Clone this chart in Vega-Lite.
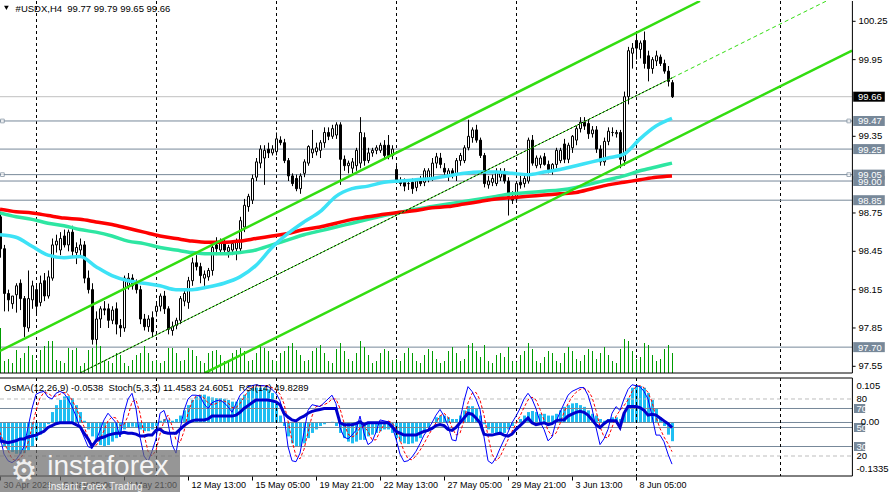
{
"$schema": "https://vega.github.io/schema/vega-lite/v6.json",
"padding": {"left": -7, "top": 0, "right": 0, "bottom": 0},
"background": "#ffffff",
"spacing": 3,
"config": {"view": {"stroke": null}, "font": "Liberation Sans", "text": {"font": "Liberation Sans"}, "scale": {"continuousPadding": 0}},
"datasets": {
"bars": [
{"i":0,"o":98.72,"h":98.76,"l":98.40,"c":98.47,"v":45,"os":-0.06,"st":41,"sg":45,"rs":36},
{"i":1,"o":98.47,"h":98.50,"l":97.98,"c":98.12,"v":12,"os":-0.07,"st":22,"sg":33,"rs":35},
{"i":2,"o":98.12,"h":98.15,"l":97.98,"c":98.07,"v":14,"os":-0.08,"st":15,"sg":26,"rs":34},
{"i":3,"o":98.04,"h":98.10,"l":98.00,"c":98.10,"v":10,"os":-0.085,"st":13,"sg":17,"rs":35},
{"i":4,"o":98.11,"h":98.20,"l":97.97,"c":98.18,"v":23,"os":-0.09,"st":16,"sg":15,"rs":36},
{"i":5,"o":98.20,"h":98.23,"l":97.99,"c":98.08,"v":15,"os":-0.09,"st":22,"sg":17,"rs":38},
{"i":6,"o":98.08,"h":98.10,"l":97.78,"c":97.86,"v":20,"os":-0.088,"st":30,"sg":23,"rs":38},
{"i":7,"o":97.85,"h":98.30,"l":97.82,"c":98.08,"v":27,"os":-0.08,"st":50,"sg":34,"rs":40},
{"i":8,"o":98.07,"h":98.22,"l":98.00,"c":98.18,"v":18,"os":-0.07,"st":70,"sg":50,"rs":41},
{"i":9,"o":98.15,"h":98.18,"l":97.96,"c":98.02,"v":13,"os":-0.05,"st":85,"sg":68,"rs":42},
{"i":10,"o":98.05,"h":98.26,"l":98.02,"c":98.20,"v":23,"os":-0.035,"st":87,"sg":81,"rs":44},
{"i":11,"o":98.22,"h":98.28,"l":98.06,"c":98.10,"v":27,"os":-0.02,"st":88,"sg":87,"rs":46},
{"i":12,"o":98.10,"h":98.30,"l":98.08,"c":98.25,"v":32,"os":-0.005,"st":82,"sg":86,"rs":50},
{"i":13,"o":98.24,"h":98.55,"l":98.22,"c":98.50,"v":32,"os":0.03,"st":80,"sg":83,"rs":52},
{"i":14,"o":98.50,"h":98.58,"l":98.44,"c":98.53,"v":13,"os":0.05,"st":86,"sg":83,"rs":54},
{"i":15,"o":98.46,"h":98.60,"l":98.42,"c":98.55,"v":12,"os":0.065,"st":88,"sg":85,"rs":55},
{"i":16,"o":98.57,"h":98.62,"l":98.48,"c":98.50,"v":10,"os":0.075,"st":86,"sg":87,"rs":55},
{"i":17,"o":98.50,"h":98.62,"l":98.45,"c":98.60,"v":25,"os":0.076,"st":80,"sg":85,"rs":55},
{"i":18,"o":98.60,"h":98.65,"l":98.40,"c":98.45,"v":23,"os":0.07,"st":72,"sg":79,"rs":55},
{"i":19,"o":98.44,"h":98.52,"l":98.35,"c":98.48,"v":25,"os":0.05,"st":62,"sg":71,"rs":53},
{"i":20,"o":98.46,"h":98.55,"l":98.40,"c":98.50,"v":7,"os":0.03,"st":50,"sg":61,"rs":51},
{"i":21,"o":98.50,"h":98.53,"l":98.20,"c":98.24,"v":10,"os":0.005,"st":40,"sg":51,"rs":44},
{"i":22,"o":98.24,"h":98.30,"l":98.12,"c":98.15,"v":23,"os":-0.02,"st":30,"sg":40,"rs":38},
{"i":23,"o":98.15,"h":98.20,"l":97.72,"c":97.76,"v":25,"os":-0.04,"st":28,"sg":33,"rs":30},
{"i":24,"o":97.76,"h":97.98,"l":97.72,"c":97.92,"v":32,"os":-0.055,"st":36,"sg":31,"rs":36},
{"i":25,"o":97.92,"h":98.02,"l":97.85,"c":98.00,"v":27,"os":-0.065,"st":47,"sg":37,"rs":39},
{"i":26,"o":98.00,"h":98.06,"l":97.95,"c":97.99,"v":13,"os":-0.07,"st":58,"sg":47,"rs":40},
{"i":27,"o":98.00,"h":98.04,"l":97.85,"c":97.91,"v":12,"os":-0.065,"st":65,"sg":57,"rs":42},
{"i":28,"o":97.91,"h":98.02,"l":97.88,"c":97.99,"v":10,"os":-0.055,"st":60,"sg":61,"rs":43},
{"i":29,"o":98.00,"h":98.05,"l":97.80,"c":97.88,"v":20,"os":-0.045,"st":55,"sg":60,"rs":44},
{"i":30,"o":97.87,"h":97.92,"l":97.78,"c":97.85,"v":18,"os":-0.035,"st":40,"sg":52,"rs":44},
{"i":31,"o":97.85,"h":98.26,"l":97.82,"c":98.24,"v":10,"os":-0.02,"st":65,"sg":53,"rs":45},
{"i":32,"o":98.18,"h":98.28,"l":98.15,"c":98.24,"v":7,"os":-0.015,"st":80,"sg":62,"rs":44},
{"i":33,"o":98.24,"h":98.27,"l":98.15,"c":98.18,"v":13,"os":-0.012,"st":86,"sg":77,"rs":44},
{"i":34,"o":98.20,"h":98.23,"l":98.12,"c":98.15,"v":18,"os":-0.015,"st":70,"sg":79,"rs":43},
{"i":35,"o":98.15,"h":98.18,"l":97.88,"c":97.92,"v":20,"os":-0.02,"st":40,"sg":65,"rs":41},
{"i":36,"o":97.92,"h":97.96,"l":97.83,"c":97.86,"v":27,"os":-0.025,"st":20,"sg":43,"rs":41},
{"i":37,"o":97.86,"h":97.95,"l":97.82,"c":97.92,"v":20,"os":-0.025,"st":14,"sg":25,"rs":42},
{"i":38,"o":97.93,"h":97.98,"l":97.78,"c":97.82,"v":12,"os":-0.02,"st":25,"sg":20,"rs":42},
{"i":39,"o":97.98,"h":98.05,"l":97.94,"c":98.02,"v":13,"os":-0.01,"st":38,"sg":26,"rs":47},
{"i":40,"o":98.02,"h":98.12,"l":97.98,"c":98.10,"v":10,"os":0.005,"st":65,"sg":43,"rs":48},
{"i":41,"o":98.10,"h":98.14,"l":97.96,"c":98.00,"v":12,"os":0.01,"st":68,"sg":57,"rs":45},
{"i":42,"o":98.00,"h":98.02,"l":97.80,"c":97.84,"v":25,"os":0.008,"st":55,"sg":63,"rs":44},
{"i":43,"o":97.83,"h":97.90,"l":97.79,"c":97.86,"v":25,"os":0.005,"st":32,"sg":52,"rs":44},
{"i":44,"o":97.87,"h":97.93,"l":97.84,"c":97.91,"v":20,"os":0.01,"st":23,"sg":37,"rs":44},
{"i":45,"o":97.91,"h":98.10,"l":97.88,"c":98.08,"v":12,"os":0.02,"st":48,"sg":34,"rs":48},
{"i":46,"o":98.06,"h":98.14,"l":98.02,"c":98.12,"v":13,"os":0.035,"st":68,"sg":46,"rs":52},
{"i":47,"o":98.05,"h":98.25,"l":98.00,"c":98.22,"v":25,"os":0.05,"st":80,"sg":65,"rs":55},
{"i":48,"o":98.22,"h":98.40,"l":98.18,"c":98.36,"v":23,"os":0.065,"st":84,"sg":77,"rs":57},
{"i":49,"o":98.36,"h":98.42,"l":98.30,"c":98.33,"v":17,"os":0.075,"st":84,"sg":83,"rs":58},
{"i":50,"o":98.33,"h":98.36,"l":98.20,"c":98.26,"v":12,"os":0.08,"st":83,"sg":84,"rs":58},
{"i":51,"o":98.24,"h":98.30,"l":98.18,"c":98.27,"v":10,"os":0.08,"st":75,"sg":81,"rs":58},
{"i":52,"o":98.25,"h":98.32,"l":98.22,"c":98.30,"v":20,"os":0.075,"st":70,"sg":76,"rs":59},
{"i":53,"o":98.30,"h":98.50,"l":98.26,"c":98.48,"v":22,"os":0.072,"st":76,"sg":74,"rs":62},
{"i":54,"o":98.50,"h":98.56,"l":98.42,"c":98.47,"v":23,"os":0.07,"st":78,"sg":75,"rs":62},
{"i":55,"o":98.46,"h":98.55,"l":98.43,"c":98.52,"v":18,"os":0.07,"st":79,"sg":78,"rs":62},
{"i":56,"o":98.52,"h":98.55,"l":98.43,"c":98.46,"v":12,"os":0.068,"st":76,"sg":78,"rs":62},
{"i":57,"o":98.45,"h":98.50,"l":98.40,"c":98.48,"v":13,"os":0.065,"st":72,"sg":76,"rs":62},
{"i":58,"o":98.46,"h":98.53,"l":98.42,"c":98.51,"v":20,"os":0.06,"st":66,"sg":71,"rs":62},
{"i":59,"o":98.47,"h":98.55,"l":98.38,"c":98.53,"v":23,"os":0.06,"st":75,"sg":71,"rs":63},
{"i":60,"o":98.47,"h":98.72,"l":98.45,"c":98.69,"v":25,"os":0.07,"st":84,"sg":75,"rs":66},
{"i":61,"o":98.64,"h":98.86,"l":98.60,"c":98.81,"v":22,"os":0.08,"st":88,"sg":82,"rs":70},
{"i":62,"o":98.80,"h":98.90,"l":98.76,"c":98.88,"v":12,"os":0.09,"st":93,"sg":88,"rs":73},
{"i":63,"o":98.85,"h":99.05,"l":98.82,"c":99.02,"v":13,"os":0.1,"st":94,"sg":92,"rs":76},
{"i":64,"o":99.03,"h":99.18,"l":99.00,"c":99.15,"v":20,"os":0.1,"st":95,"sg":94,"rs":79},
{"i":65,"o":99.14,"h":99.28,"l":99.10,"c":99.25,"v":27,"os":0.1,"st":94,"sg":94,"rs":79},
{"i":66,"o":99.18,"h":99.28,"l":98.97,"c":99.24,"v":25,"os":0.1,"st":94,"sg":94,"rs":79},
{"i":67,"o":99.25,"h":99.30,"l":99.18,"c":99.22,"v":22,"os":0.095,"st":93,"sg":94,"rs":79},
{"i":68,"o":99.22,"h":99.28,"l":99.20,"c":99.25,"v":13,"os":0.085,"st":90,"sg":92,"rs":78},
{"i":69,"o":99.23,"h":99.38,"l":99.20,"c":99.33,"v":12,"os":0.06,"st":86,"sg":90,"rs":77},
{"i":70,"o":99.32,"h":99.35,"l":99.28,"c":99.30,"v":20,"os":0.02,"st":78,"sg":85,"rs":74},
{"i":71,"o":99.30,"h":99.33,"l":99.14,"c":99.16,"v":22,"os":-0.01,"st":62,"sg":75,"rs":65},
{"i":72,"o":99.16,"h":99.18,"l":99.00,"c":99.04,"v":27,"os":-0.04,"st":30,"sg":57,"rs":61},
{"i":73,"o":99.04,"h":99.06,"l":98.96,"c":98.98,"v":30,"os":-0.06,"st":15,"sg":36,"rs":58},
{"i":74,"o":99.02,"h":99.05,"l":98.92,"c":98.94,"v":23,"os":-0.07,"st":14,"sg":20,"rs":57},
{"i":75,"o":98.94,"h":99.06,"l":98.90,"c":99.04,"v":18,"os":-0.07,"st":23,"sg":17,"rs":60},
{"i":76,"o":99.06,"h":99.17,"l":99.03,"c":99.15,"v":12,"os":-0.06,"st":45,"sg":27,"rs":62},
{"i":77,"o":99.14,"h":99.28,"l":99.12,"c":99.27,"v":13,"os":-0.045,"st":68,"sg":45,"rs":65},
{"i":78,"o":99.22,"h":99.40,"l":99.18,"c":99.25,"v":22,"os":-0.03,"st":74,"sg":62,"rs":67},
{"i":79,"o":99.23,"h":99.30,"l":99.20,"c":99.26,"v":25,"os":-0.02,"st":73,"sg":72,"rs":68},
{"i":80,"o":99.24,"h":99.32,"l":99.18,"c":99.30,"v":28,"os":-0.01,"st":72,"sg":73,"rs":69},
{"i":81,"o":99.30,"h":99.42,"l":99.26,"c":99.38,"v":20,"os":-0.005,"st":76,"sg":74,"rs":70},
{"i":82,"o":99.38,"h":99.42,"l":99.32,"c":99.35,"v":12,"os":0.0,"st":80,"sg":76,"rs":70},
{"i":83,"o":99.35,"h":99.44,"l":99.33,"c":99.41,"v":10,"os":0.002,"st":84,"sg":80,"rs":70},
{"i":84,"o":99.36,"h":99.46,"l":99.33,"c":99.44,"v":24,"os":-0.01,"st":75,"sg":80,"rs":70},
{"i":85,"o":99.44,"h":99.46,"l":98.97,"c":99.17,"v":30,"os":-0.03,"st":50,"sg":70,"rs":55},
{"i":86,"o":99.17,"h":99.20,"l":99.08,"c":99.12,"v":22,"os":-0.045,"st":40,"sg":55,"rs":53},
{"i":87,"o":99.12,"h":99.16,"l":99.06,"c":99.14,"v":14,"os":-0.055,"st":38,"sg":43,"rs":53},
{"i":88,"o":99.10,"h":99.18,"l":99.06,"c":99.15,"v":12,"os":-0.06,"st":42,"sg":40,"rs":53},
{"i":89,"o":99.12,"h":99.26,"l":99.08,"c":99.24,"v":20,"os":-0.055,"st":47,"sg":42,"rs":54},
{"i":90,"o":99.14,"h":99.50,"l":99.10,"c":99.38,"v":32,"os":-0.05,"st":62,"sg":50,"rs":56},
{"i":91,"o":99.34,"h":99.38,"l":99.12,"c":99.16,"v":26,"os":-0.05,"st":44,"sg":51,"rs":53},
{"i":92,"o":99.16,"h":99.26,"l":99.14,"c":99.22,"v":18,"os":-0.04,"st":32,"sg":46,"rs":55},
{"i":93,"o":99.22,"h":99.26,"l":99.19,"c":99.24,"v":10,"os":-0.035,"st":35,"sg":37,"rs":55},
{"i":94,"o":99.24,"h":99.28,"l":99.21,"c":99.26,"v":12,"os":-0.03,"st":45,"sg":37,"rs":55},
{"i":95,"o":99.24,"h":99.30,"l":99.22,"c":99.28,"v":20,"os":-0.025,"st":58,"sg":46,"rs":55},
{"i":96,"o":99.28,"h":99.32,"l":99.18,"c":99.20,"v":24,"os":-0.02,"st":57,"sg":53,"rs":55},
{"i":97,"o":99.28,"h":99.36,"l":99.17,"c":99.20,"v":22,"os":-0.02,"st":56,"sg":57,"rs":55},
{"i":98,"o":99.20,"h":99.28,"l":99.17,"c":99.25,"v":13,"os":-0.03,"st":52,"sg":55,"rs":51},
{"i":99,"o":99.09,"h":99.12,"l":98.98,"c":99.00,"v":14,"os":-0.045,"st":38,"sg":49,"rs":46},
{"i":100,"o":99.00,"h":99.03,"l":98.96,"c":98.98,"v":12,"os":-0.055,"st":22,"sg":37,"rs":44},
{"i":101,"o":98.99,"h":99.02,"l":98.92,"c":98.96,"v":20,"os":-0.06,"st":14,"sg":25,"rs":42},
{"i":102,"o":98.98,"h":99.01,"l":98.93,"c":98.98,"v":25,"os":-0.062,"st":15,"sg":17,"rs":42},
{"i":103,"o":98.99,"h":99.02,"l":98.90,"c":98.94,"v":20,"os":-0.06,"st":19,"sg":16,"rs":42},
{"i":104,"o":98.95,"h":99.02,"l":98.92,"c":99.00,"v":12,"os":-0.055,"st":25,"sg":20,"rs":42},
{"i":105,"o":99.00,"h":99.04,"l":98.96,"c":98.98,"v":10,"os":-0.045,"st":33,"sg":26,"rs":44},
{"i":106,"o":98.99,"h":99.10,"l":98.96,"c":99.08,"v":18,"os":-0.03,"st":42,"sg":33,"rs":46},
{"i":107,"o":99.02,"h":99.10,"l":98.99,"c":99.08,"v":24,"os":-0.015,"st":48,"sg":41,"rs":47},
{"i":108,"o":99.02,"h":99.18,"l":99.00,"c":99.14,"v":22,"os":0.0,"st":55,"sg":48,"rs":49},
{"i":109,"o":99.14,"h":99.22,"l":99.10,"c":99.19,"v":14,"os":0.015,"st":63,"sg":55,"rs":52},
{"i":110,"o":99.18,"h":99.22,"l":99.10,"c":99.13,"v":10,"os":0.02,"st":69,"sg":62,"rs":53},
{"i":111,"o":99.10,"h":99.14,"l":99.04,"c":99.07,"v":12,"os":0.02,"st":62,"sg":65,"rs":52},
{"i":112,"o":99.04,"h":99.10,"l":99.00,"c":99.08,"v":22,"os":0.015,"st":52,"sg":61,"rs":48},
{"i":113,"o":99.08,"h":99.10,"l":99.02,"c":99.05,"v":26,"os":0.01,"st":37,"sg":50,"rs":47},
{"i":114,"o":99.05,"h":99.18,"l":99.00,"c":99.16,"v":20,"os":0.01,"st":36,"sg":42,"rs":50},
{"i":115,"o":99.16,"h":99.22,"l":99.12,"c":99.20,"v":12,"os":0.02,"st":58,"sg":44,"rs":55},
{"i":116,"o":99.16,"h":99.28,"l":99.14,"c":99.26,"v":14,"os":0.035,"st":78,"sg":57,"rs":60},
{"i":117,"o":99.26,"h":99.48,"l":99.24,"c":99.35,"v":28,"os":0.047,"st":93,"sg":76,"rs":65},
{"i":118,"o":99.34,"h":99.42,"l":99.30,"c":99.40,"v":30,"os":0.047,"st":88,"sg":86,"rs":64},
{"i":119,"o":99.40,"h":99.44,"l":99.30,"c":99.32,"v":22,"os":0.04,"st":80,"sg":87,"rs":60},
{"i":120,"o":99.32,"h":99.34,"l":99.18,"c":99.20,"v":16,"os":0.02,"st":69,"sg":79,"rs":55},
{"i":121,"o":99.20,"h":99.22,"l":98.95,"c":98.98,"v":28,"os":-0.005,"st":40,"sg":63,"rs":43},
{"i":122,"o":98.97,"h":99.04,"l":98.94,"c":99.00,"v":12,"os":-0.02,"st":15,"sg":41,"rs":42},
{"i":123,"o":98.99,"h":99.05,"l":98.96,"c":99.02,"v":10,"os":-0.03,"st":12,"sg":22,"rs":42},
{"i":124,"o":98.98,"h":99.10,"l":98.96,"c":99.07,"v":18,"os":-0.035,"st":18,"sg":15,"rs":43},
{"i":125,"o":99.03,"h":99.10,"l":99.00,"c":99.07,"v":20,"os":-0.035,"st":28,"sg":19,"rs":44},
{"i":126,"o":99.06,"h":99.10,"l":98.98,"c":99.00,"v":16,"os":-0.03,"st":37,"sg":28,"rs":42},
{"i":127,"o":99.00,"h":99.03,"l":98.73,"c":98.88,"v":26,"os":-0.02,"st":45,"sg":37,"rs":41},
{"i":128,"o":98.88,"h":98.92,"l":98.82,"c":98.85,"v":12,"os":-0.01,"st":55,"sg":46,"rs":43},
{"i":129,"o":98.86,"h":99.00,"l":98.83,"c":98.98,"v":11,"os":0.0,"st":62,"sg":54,"rs":48},
{"i":130,"o":98.99,"h":99.04,"l":98.94,"c":98.97,"v":18,"os":0.01,"st":70,"sg":62,"rs":52},
{"i":131,"o":98.98,"h":99.04,"l":98.95,"c":99.02,"v":22,"os":0.02,"st":80,"sg":71,"rs":56},
{"i":132,"o":99.00,"h":99.34,"l":98.98,"c":99.32,"v":30,"os":0.03,"st":86,"sg":79,"rs":60},
{"i":133,"o":99.32,"h":99.36,"l":99.12,"c":99.14,"v":24,"os":0.033,"st":80,"sg":82,"rs":55},
{"i":134,"o":99.12,"h":99.20,"l":99.10,"c":99.18,"v":12,"os":0.03,"st":70,"sg":79,"rs":53},
{"i":135,"o":99.13,"h":99.20,"l":99.10,"c":99.18,"v":10,"os":0.025,"st":56,"sg":69,"rs":54},
{"i":136,"o":99.19,"h":99.22,"l":99.12,"c":99.13,"v":16,"os":0.025,"st":48,"sg":58,"rs":55},
{"i":137,"o":99.13,"h":99.16,"l":99.06,"c":99.09,"v":22,"os":0.02,"st":36,"sg":47,"rs":53},
{"i":138,"o":99.09,"h":99.14,"l":99.05,"c":99.13,"v":20,"os":0.02,"st":40,"sg":41,"rs":54},
{"i":139,"o":99.13,"h":99.26,"l":99.10,"c":99.24,"v":12,"os":0.025,"st":56,"sg":44,"rs":57},
{"i":140,"o":99.16,"h":99.26,"l":99.14,"c":99.24,"v":10,"os":0.035,"st":66,"sg":54,"rs":58},
{"i":141,"o":99.29,"h":99.33,"l":99.14,"c":99.17,"v":20,"os":0.045,"st":75,"sg":66,"rs":58},
{"i":142,"o":99.17,"h":99.30,"l":99.14,"c":99.28,"v":26,"os":0.05,"st":84,"sg":75,"rs":62},
{"i":143,"o":99.26,"h":99.36,"l":99.22,"c":99.35,"v":22,"os":0.055,"st":88,"sg":82,"rs":64},
{"i":144,"o":99.32,"h":99.43,"l":99.28,"c":99.41,"v":14,"os":0.056,"st":90,"sg":87,"rs":66},
{"i":145,"o":99.41,"h":99.50,"l":99.38,"c":99.46,"v":12,"os":0.05,"st":92,"sg":90,"rs":67},
{"i":146,"o":99.46,"h":99.50,"l":99.40,"c":99.43,"v":18,"os":0.045,"st":92,"sg":91,"rs":66},
{"i":147,"o":99.45,"h":99.48,"l":99.33,"c":99.37,"v":24,"os":0.035,"st":84,"sg":89,"rs":63},
{"i":148,"o":99.37,"h":99.43,"l":99.34,"c":99.40,"v":22,"os":0.025,"st":70,"sg":82,"rs":58},
{"i":149,"o":99.40,"h":99.43,"l":99.22,"c":99.25,"v":14,"os":0.02,"st":50,"sg":68,"rs":53},
{"i":150,"o":99.25,"h":99.28,"l":99.12,"c":99.15,"v":20,"os":0.01,"st":32,"sg":51,"rs":50},
{"i":151,"o":99.15,"h":99.34,"l":99.12,"c":99.31,"v":26,"os":0.005,"st":38,"sg":40,"rs":54},
{"i":152,"o":99.31,"h":99.42,"l":99.28,"c":99.39,"v":18,"os":0.01,"st":48,"sg":39,"rs":57},
{"i":153,"o":99.38,"h":99.42,"l":99.35,"c":99.38,"v":12,"os":0.015,"st":65,"sg":50,"rs":57},
{"i":154,"o":99.37,"h":99.40,"l":99.34,"c":99.38,"v":10,"os":0.015,"st":72,"sg":62,"rs":57},
{"i":155,"o":99.38,"h":99.40,"l":99.10,"c":99.17,"v":24,"os":0.01,"st":68,"sg":68,"rs":50},
{"i":156,"o":99.16,"h":99.70,"l":99.12,"c":99.66,"v":34,"os":0.03,"st":80,"sg":73,"rs":65},
{"i":157,"o":99.66,"h":100.05,"l":99.60,"c":100.02,"v":32,"os":0.07,"st":90,"sg":79,"rs":72},
{"i":158,"o":100.00,"h":100.08,"l":99.88,"c":100.04,"v":22,"os":0.1,"st":95,"sg":88,"rs":72},
{"i":159,"o":100.10,"h":100.16,"l":99.95,"c":100.04,"v":14,"os":0.108,"st":94,"sg":93,"rs":72},
{"i":160,"o":100.03,"h":100.10,"l":99.96,"c":100.08,"v":16,"os":0.105,"st":93,"sg":94,"rs":71},
{"i":161,"o":100.10,"h":100.17,"l":99.88,"c":99.92,"v":30,"os":0.1,"st":88,"sg":92,"rs":68},
{"i":162,"o":99.98,"h":100.02,"l":99.78,"c":99.88,"v":28,"os":0.085,"st":80,"sg":87,"rs":63},
{"i":163,"o":99.88,"h":99.97,"l":99.84,"c":99.95,"v":18,"os":0.065,"st":62,"sg":77,"rs":64},
{"i":164,"o":99.94,"h":100.02,"l":99.90,"c":99.98,"v":12,"os":0.04,"st":42,"sg":61,"rs":63},
{"i":165,"o":99.97,"h":99.99,"l":99.90,"c":99.92,"v":14,"os":0.015,"st":42,"sg":49,"rs":60},
{"i":166,"o":99.92,"h":99.95,"l":99.84,"c":99.86,"v":24,"os":-0.01,"st":35,"sg":40,"rs":57},
{"i":167,"o":99.86,"h":99.90,"l":99.74,"c":99.78,"v":28,"os":-0.035,"st":22,"sg":33,"rs":54},
{"i":168,"o":99.77,"h":99.79,"l":99.65,"c":99.66,"v":20,"os":-0.0538,"st":11.46,"sg":24.61,"rs":49.83}
],
"ma": [
{"i":0,"r":98.78,"t":98.75,"cy":98.58},{"i":4,"r":98.76,"t":98.72,"cy":98.56},{"i":8,"r":98.75,"t":98.70,"cy":98.49},{"i":12,"r":98.73,"t":98.67,"cy":98.42},
{"i":16,"r":98.71,"t":98.65,"cy":98.40},{"i":20,"r":98.70,"t":98.62,"cy":98.41},{"i":24,"r":98.68,"t":98.60,"cy":98.33},{"i":28,"r":98.66,"t":98.57,"cy":98.26},
{"i":32,"r":98.63,"t":98.53,"cy":98.22},{"i":36,"r":98.60,"t":98.51,"cy":98.20},{"i":40,"r":98.57,"t":98.48,"cy":98.18},{"i":44,"r":98.55,"t":98.46,"cy":98.15},
{"i":48,"r":98.53,"t":98.44,"cy":98.15},{"i":52,"r":98.52,"t":98.43,"cy":98.17},{"i":56,"r":98.52,"t":98.43,"cy":98.20},{"i":60,"r":98.53,"t":98.44,"cy":98.25},
{"i":64,"r":98.55,"t":98.46,"cy":98.34},{"i":68,"r":98.57,"t":98.50,"cy":98.48},{"i":72,"r":98.59,"t":98.54,"cy":98.59},{"i":76,"r":98.62,"t":98.58,"cy":98.68},
{"i":80,"r":98.64,"t":98.61,"cy":98.76},{"i":84,"r":98.67,"t":98.64,"cy":98.88},{"i":88,"r":98.70,"t":98.67,"cy":98.94},{"i":92,"r":98.72,"t":98.70,"cy":98.96},
{"i":96,"r":98.74,"t":98.73,"cy":98.99},{"i":100,"r":98.755,"t":98.755,"cy":99.00},{"i":104,"r":98.77,"t":98.78,"cy":99.01},{"i":108,"r":98.79,"t":98.80,"cy":99.02},
{"i":112,"r":98.80,"t":98.82,"cy":99.04},{"i":116,"r":98.82,"t":98.84,"cy":99.06},{"i":120,"r":98.84,"t":98.86,"cy":99.07},{"i":124,"r":98.86,"t":98.88,"cy":99.07},
{"i":128,"r":98.87,"t":98.90,"cy":99.06},{"i":132,"r":98.88,"t":98.91,"cy":99.05},{"i":136,"r":98.89,"t":98.92,"cy":99.07},{"i":140,"r":98.90,"t":98.93,"cy":99.09},
{"i":144,"r":98.91,"t":98.95,"cy":99.12},{"i":148,"r":98.94,"t":98.98,"cy":99.15},{"i":152,"r":98.97,"t":99.01,"cy":99.18},{"i":156,"r":98.99,"t":99.04,"cy":99.21},
{"i":160,"r":99.01,"t":99.08,"cy":99.33},{"i":164,"r":99.03,"t":99.11,"cy":99.43},{"i":168,"r":99.04,"t":99.14,"cy":99.49}
],
"chan": [{"g":"u","i":0,"p":97.67},{"g":"u","i":175,"p":100.409},{"g":"l","i":51.25,"p":97.498},{"g":"l","i":213,"p":100.021}],
"mid": [{"i":20,"p":97.498},{"i":168,"p":99.807}],
"midx": [{"i":168,"p":99.807},{"i":207.5,"p":100.423}],
"seps": [{"i":9},{"i":39},{"i":69},{"i":99},{"i":129},{"i":159},{"i":195}],
"yticks": [{"v":97.55},{"v":97.85},{"v":98.15},{"v":98.45},{"v":98.75},{"v":99.35},{"v":99.95},{"v":100.25}],
"levels": [{"p":99.66,"t":"price","lab":"99.66"},{"p":99.47,"t":"lvl","lab":"99.47"},{"p":99.25,"t":"lvl","lab":"99.25"},{"p":99.00,"t":"lvl","lab":"99.00"},{"p":99.05,"t":"lvl","lab":"99.05"},{"p":98.85,"t":"lvl","lab":"98.85"},{"p":97.70,"t":"lvl","lab":"97.70"}],
"handles": [{"p":99.47},{"p":99.05}],
"olev": [{"v":80,"t":"d"},{"v":20,"t":"d"},{"v":70,"t":"s"},{"v":50,"t":"s"},{"v":30,"t":"s"}],
"obox": [{"v":70,"lab":"70"},{"v":50,"lab":"50"},{"v":30,"lab":"30"}],
"olab_s": [{"v":80,"lab":"80"},{"v":20,"lab":"20"}],
"olab_o": [{"v":0.105,"lab":"0.105"},{"v":-0.1335,"lab":"-0.1335"}]
},
"vconcat": [
{
"width": 886, "height": 372,
"layer": [
{"data": {"name": "seps"}, "mark": {"type": "rule", "color": "#000000", "strokeWidth": 1, "strokeDash": [3, 3], "xOffset": 0.5}, "encoding": {
  "x": {"field": "i", "type": "quantitative", "scale": {"domain": [0, 221.5], "nice": false, "zero": false, "padding": 0}, "axis": null}}},
{"data": {"name": "levels"}, "mark": {"type": "rule", "strokeWidth": 1}, "encoding": {
  "x": {"datum": 0, "type": "quantitative", "scale": {"domain": [0, 221.5], "nice": false, "zero": false, "padding": 0}, "axis": null},
  "x2": {"datum": 213},
  "y": {"field": "p", "type": "quantitative", "scale": {"domain": [97.4976, 100.4089], "nice": false, "zero": false}, "axis": null},
  "color": {"condition": {"test": "datum.t == 'price'", "value": "#c0c0c0"}, "value": "#778899"}}},
{"data": {"name": "bars"}, "mark": {"type": "bar", "width": 1, "xOffset": 0.5, "color": "#009c00"}, "encoding": {
  "x": {"field": "i", "type": "quantitative", "scale": {"domain": [0, 221.5], "nice": false, "zero": false, "padding": 0}, "axis": null},
  "y": {"field": "v", "type": "quantitative", "scale": {"domain": [0, 372], "nice": false, "zero": true}, "axis": null}}},
{"data": {"name": "bars"}, "mark": {"type": "rule", "color": "#000000", "strokeWidth": 1, "xOffset": 0.5}, "encoding": {
  "x": {"field": "i", "type": "quantitative", "scale": {"domain": [0, 221.5], "nice": false, "zero": false, "padding": 0}, "axis": null},
  "y": {"field": "l", "type": "quantitative", "scale": {"domain": [97.4976, 100.4089], "nice": false, "zero": false}, "axis": null},
  "y2": {"field": "h"}}},
{"data": {"name": "bars"}, "mark": {"type": "bar", "width": 2, "xOffset": 0.5, "stroke": "#000000", "strokeWidth": 1}, "encoding": {
  "x": {"field": "i", "type": "quantitative", "scale": {"domain": [0, 221.5], "nice": false, "zero": false, "padding": 0}, "axis": null},
  "y": {"field": "o", "type": "quantitative", "scale": {"domain": [97.4976, 100.4089], "nice": false, "zero": false}, "axis": null},
  "y2": {"field": "c"},
  "fill": {"condition": {"test": "datum.c >= datum.o", "value": "#ffffff"}, "value": "#000000"}}},
{"data": {"name": "ma"}, "mark": {"type": "line", "color": "#2ee6a2", "strokeWidth": 3.5, "interpolate": "monotone"}, "encoding": {
  "x": {"field": "i", "type": "quantitative", "scale": {"domain": [0, 221.5], "nice": false, "zero": false, "padding": 0}, "axis": null},
  "y": {"field": "t", "type": "quantitative", "scale": {"domain": [97.4976, 100.4089], "nice": false, "zero": false}, "axis": null}}},
{"data": {"name": "ma"}, "mark": {"type": "line", "color": "#ff0000", "strokeWidth": 3.5, "interpolate": "monotone"}, "encoding": {
  "x": {"field": "i", "type": "quantitative", "scale": {"domain": [0, 221.5], "nice": false, "zero": false, "padding": 0}, "axis": null},
  "y": {"field": "r", "type": "quantitative", "scale": {"domain": [97.4976, 100.4089], "nice": false, "zero": false}, "axis": null}}},
{"data": {"name": "ma"}, "mark": {"type": "line", "color": "#3de2f6", "strokeWidth": 3.5, "interpolate": "monotone"}, "encoding": {
  "x": {"field": "i", "type": "quantitative", "scale": {"domain": [0, 221.5], "nice": false, "zero": false, "padding": 0}, "axis": null},
  "y": {"field": "cy", "type": "quantitative", "scale": {"domain": [97.4976, 100.4089], "nice": false, "zero": false}, "axis": null}}},
{"data": {"name": "chan"}, "mark": {"type": "line", "color": "#33dd11", "strokeWidth": 2.5, "clip": true}, "encoding": {
  "x": {"field": "i", "type": "quantitative", "scale": {"domain": [0, 221.5], "nice": false, "zero": false, "padding": 0}, "axis": null},
  "y": {"field": "p", "type": "quantitative", "scale": {"domain": [97.4976, 100.4089], "nice": false, "zero": false}, "axis": null},
  "detail": {"field": "g"}}},
{"data": {"name": "mid"}, "mark": {"type": "line", "color": "#33dd11", "strokeWidth": 1, "clip": true}, "encoding": {
  "x": {"field": "i", "type": "quantitative", "scale": {"domain": [0, 221.5], "nice": false, "zero": false, "padding": 0}, "axis": null},
  "y": {"field": "p", "type": "quantitative", "scale": {"domain": [97.4976, 100.4089], "nice": false, "zero": false}, "axis": null}}},
{"data": {"name": "mid"}, "mark": {"type": "line", "color": "#000000", "strokeWidth": 1, "strokeDash": [2, 2], "clip": true}, "encoding": {
  "x": {"field": "i", "type": "quantitative", "scale": {"domain": [0, 221.5], "nice": false, "zero": false, "padding": 0}, "axis": null},
  "y": {"field": "p", "type": "quantitative", "scale": {"domain": [97.4976, 100.4089], "nice": false, "zero": false}, "axis": null}}},
{"data": {"name": "midx"}, "mark": {"type": "line", "color": "#33dd11", "strokeWidth": 1, "strokeDash": [4, 3], "clip": true}, "encoding": {
  "x": {"field": "i", "type": "quantitative", "scale": {"domain": [0, 221.5], "nice": false, "zero": false, "padding": 0}, "axis": null},
  "y": {"field": "p", "type": "quantitative", "scale": {"domain": [97.4976, 100.4089], "nice": false, "zero": false}, "axis": null}}},
{"data": {"name": "handles"}, "mark": {"type": "point", "shape": "square", "size": 14, "filled": true, "fill": "#ffffff", "stroke": "#778899", "strokeWidth": 1}, "encoding": {
  "x": {"datum": 0.6, "type": "quantitative", "scale": {"domain": [0, 221.5], "nice": false, "zero": false, "padding": 0}, "axis": null},
  "y": {"field": "p", "type": "quantitative", "scale": {"domain": [97.4976, 100.4089], "nice": false, "zero": false}, "axis": null}}},
{"data": {"name": "handles"}, "mark": {"type": "point", "shape": "square", "size": 14, "filled": true, "fill": "#ffffff", "stroke": "#778899", "strokeWidth": 1}, "encoding": {
  "x": {"datum": 212.2, "type": "quantitative", "scale": {"domain": [0, 221.5], "nice": false, "zero": false, "padding": 0}, "axis": null},
  "y": {"field": "p", "type": "quantitative", "scale": {"domain": [97.4976, 100.4089], "nice": false, "zero": false}, "axis": null}}},
{"data": {"values": [{"v": 97.4976}]}, "mark": {"type": "rule", "color": "#000000", "strokeWidth": 1}, "encoding": {
  "x": {"datum": 0, "type": "quantitative", "scale": {"domain": [0, 221.5], "nice": false, "zero": false, "padding": 0}, "axis": null},
  "x2": {"datum": 213.1},
  "y": {"field": "v", "type": "quantitative", "scale": {"domain": [97.4976, 100.4089], "nice": false, "zero": false}, "axis": null}}},
{"data": {"values": [{"k": 1}]}, "mark": {"type": "rule", "color": "#000000", "strokeWidth": 1}, "encoding": {
  "x": {"datum": 213.1, "type": "quantitative", "scale": {"domain": [0, 221.5], "nice": false, "zero": false, "padding": 0}, "axis": null}}},
{"data": {"name": "yticks"}, "mark": {"type": "rule", "color": "#000000", "strokeWidth": 1}, "encoding": {
  "x": {"datum": 213.1, "type": "quantitative", "scale": {"domain": [0, 221.5], "nice": false, "zero": false, "padding": 0}, "axis": null},
  "x2": {"datum": 213.9},
  "y": {"field": "v", "type": "quantitative", "scale": {"domain": [97.4976, 100.4089], "nice": false, "zero": false}, "axis": null}}},
{"data": {"name": "yticks"}, "mark": {"type": "text", "align": "left", "baseline": "middle", "color": "#000000", "fontSize": 9.5}, "encoding": {
  "x": {"datum": 214.6, "type": "quantitative", "scale": {"domain": [0, 221.5], "nice": false, "zero": false, "padding": 0}, "axis": null},
  "y": {"field": "v", "type": "quantitative", "scale": {"domain": [97.4976, 100.4089], "nice": false, "zero": false}, "axis": null},
  "text": {"field": "v", "type": "quantitative", "format": ".2f"}}},
{"data": {"name": "levels"}, "mark": {"type": "bar", "height": 10, "orient": "horizontal"}, "encoding": {
  "x": {"datum": 213.3, "type": "quantitative", "scale": {"domain": [0, 221.5], "nice": false, "zero": false, "padding": 0}, "axis": null},
  "x2": {"datum": 221.2},
  "y": {"field": "p", "type": "quantitative", "scale": {"domain": [97.4976, 100.4089], "nice": false, "zero": false, "padding": 0}, "axis": null},
  "color": {"condition": {"test": "datum.t == 'price'", "value": "#000000"}, "value": "#778899"}}},
{"data": {"name": "levels"}, "mark": {"type": "text", "align": "left", "baseline": "middle", "color": "#ffffff", "fontSize": 9.5, "dy": 0.5}, "encoding": {
  "x": {"datum": 214.5, "type": "quantitative", "scale": {"domain": [0, 221.5], "nice": false, "zero": false, "padding": 0}, "axis": null},
  "y": {"field": "p", "type": "quantitative", "scale": {"domain": [97.4976, 100.4089], "nice": false, "zero": false}, "axis": null},
  "text": {"field": "lab"}}},
{"data": {"values": [{"t": "#USDX,H4\u00a0\u00a099.77 99.79 99.65 99.66"}]}, "mark": {"type": "text", "align": "left", "baseline": "middle", "color": "#000000", "fontSize": 9.5}, "encoding": {
  "x": {"datum": 3.9, "type": "quantitative", "scale": {"domain": [0, 221.5], "nice": false, "zero": false, "padding": 0}, "axis": null},
  "y": {"datum": 100.35, "type": "quantitative", "scale": {"domain": [97.4976, 100.4089], "nice": false, "zero": false}, "axis": null},
  "text": {"field": "t"}}},
{"data": {"values": [{"t": "a"}]}, "mark": {"type": "point", "shape": "triangle-down", "size": 22, "filled": true, "color": "#000000", "opacity": 1}, "encoding": {
  "x": {"datum": 1.6, "type": "quantitative", "scale": {"domain": [0, 221.5], "nice": false, "zero": false, "padding": 0}, "axis": null},
  "y": {"datum": 100.355, "type": "quantitative", "scale": {"domain": [97.4976, 100.4089], "nice": false, "zero": false}, "axis": null}}}
],
"resolve": {"scale": {"y": "independent"}}
},
{
"width": 886, "height": 98,
"layer": [
{"data": {"name": "bars"}, "mark": {"type": "bar", "width": 3, "xOffset": 0.5, "color": "#1fbef2"}, "encoding": {
  "x": {"field": "i", "type": "quantitative", "scale": {"domain": [0, 221.5], "nice": false, "zero": false, "padding": 0},
    "axis": {"orient": "bottom", "values": [0, 15, 31, 47, 63, 79, 95, 111, 127, 143, 159],
      "labelExpr": "datum.value==0?'30 Apr 2025':datum.value==15?'5 May 05:00':datum.value==31?'7 May 21:00':datum.value==47?'12 May 13:00':datum.value==63?'15 May 05:00':datum.value==79?'19 May 21:00':datum.value==95?'22 May 13:00':datum.value==111?'27 May 05:00':datum.value==127?'29 May 21:00':datum.value==143?'3 Jun 13:00':'8 Jun 05:00'",
      "labelAlign": "left", "labelBaseline": "top", "labelPadding": 0, "labelOffset": 3, "labelFlush": false, "labelOverlap": false, "labelBound": false,
      "labelFontSize": 9, "labelFont": "Liberation Sans", "labelColor": "#000000", "tickSize": 4, "tickColor": "#000000", "domain": false, "title": null, "grid": false}},
  "y": {"field": "os", "type": "quantitative", "scale": {"domain": [-0.1539, 0.128], "nice": false, "zero": false}, "axis": null},
  "y2": {"datum": 0}}},
{"data": {"name": "olev"}, "mark": {"type": "rule", "strokeWidth": 1}, "encoding": {
  "x": {"datum": 0, "type": "quantitative", "scale": {"domain": [0, 221.5], "nice": false, "zero": false, "padding": 0}},
  "x2": {"datum": 213},
  "y": {"field": "v", "type": "quantitative", "scale": {"domain": [-1.05, 102.1], "nice": false, "zero": false}, "axis": null},
  "color": {"condition": {"test": "datum.t == 'd'", "value": "#bdbdbd"}, "value": "#778899"},
  "strokeDash": {"condition": {"test": "datum.t == 'd'", "value": [4, 3]}, "value": [1, 0]}}},
{"data": {"values": [{"v": 0}]}, "mark": {"type": "rule", "strokeWidth": 1, "color": "#778899"}, "encoding": {
  "x": {"datum": 0, "type": "quantitative", "scale": {"domain": [0, 221.5], "nice": false, "zero": false, "padding": 0}},
  "x2": {"datum": 213},
  "y": {"field": "v", "type": "quantitative", "scale": {"domain": [-0.1539, 0.128], "nice": false, "zero": false}, "axis": null}}},
{"data": {"values": [{"v": 102.1}, {"v": -1.05}]}, "mark": {"type": "rule", "strokeWidth": 1, "color": "#000000"}, "encoding": {
  "x": {"datum": 0, "type": "quantitative", "scale": {"domain": [0, 221.5], "nice": false, "zero": false, "padding": 0}},
  "x2": {"datum": 213.1},
  "y": {"field": "v", "type": "quantitative", "scale": {"domain": [-1.05, 102.1], "nice": false, "zero": false}, "axis": null}}},
{"data": {"values": [{"k": 1}]}, "mark": {"type": "rule", "color": "#000000", "strokeWidth": 1}, "encoding": {
  "x": {"datum": 213.1, "type": "quantitative", "scale": {"domain": [0, 221.5], "nice": false, "zero": false, "padding": 0}}}},
{"data": {"name": "seps"}, "mark": {"type": "rule", "color": "#000000", "strokeWidth": 1, "strokeDash": [3, 3], "xOffset": 0.5}, "encoding": {
  "x": {"field": "i", "type": "quantitative", "scale": {"domain": [0, 221.5], "nice": false, "zero": false, "padding": 0}}}},
{"data": {"name": "bars"}, "mark": {"type": "line", "color": "#ff0000", "strokeWidth": 1, "strokeDash": [3, 2]}, "encoding": {
  "x": {"field": "i", "type": "quantitative", "scale": {"domain": [0, 221.5], "nice": false, "zero": false, "padding": 0}},
  "y": {"field": "sg", "type": "quantitative", "scale": {"domain": [-1.05, 102.1], "nice": false, "zero": false}, "axis": null}}},
{"data": {"name": "bars"}, "mark": {"type": "line", "color": "#0000ff", "strokeWidth": 1}, "encoding": {
  "x": {"field": "i", "type": "quantitative", "scale": {"domain": [0, 221.5], "nice": false, "zero": false, "padding": 0}},
  "y": {"field": "st", "type": "quantitative", "scale": {"domain": [-1.05, 102.1], "nice": false, "zero": false}, "axis": null}}},
{"data": {"name": "bars"}, "mark": {"type": "line", "color": "#0000cd", "strokeWidth": 3}, "encoding": {
  "x": {"field": "i", "type": "quantitative", "scale": {"domain": [0, 221.5], "nice": false, "zero": false, "padding": 0}},
  "y": {"field": "rs", "type": "quantitative", "scale": {"domain": [-1.05, 102.1], "nice": false, "zero": false}, "axis": null}}},
{"data": {"name": "obox"}, "mark": {"type": "bar", "height": 9, "orient": "horizontal", "color": "#778899"}, "encoding": {
  "x": {"datum": 213.5, "type": "quantitative", "scale": {"domain": [0, 221.5], "nice": false, "zero": false, "padding": 0}},
  "x2": {"datum": 216.3},
  "y": {"field": "v", "type": "quantitative", "scale": {"domain": [-1.05, 102.1], "nice": false, "zero": false, "padding": 0}, "axis": null}}},
{"data": {"name": "obox"}, "mark": {"type": "text", "align": "left", "baseline": "middle", "color": "#ffffff", "fontSize": 9.5, "dy": 0.5}, "encoding": {
  "x": {"datum": 214.1, "type": "quantitative", "scale": {"domain": [0, 221.5], "nice": false, "zero": false, "padding": 0}},
  "y": {"field": "v", "type": "quantitative", "scale": {"domain": [-1.05, 102.1], "nice": false, "zero": false}, "axis": null},
  "text": {"field": "lab"}}},
{"data": {"name": "olab_s"}, "mark": {"type": "text", "align": "left", "baseline": "middle", "color": "#000000", "fontSize": 9.5}, "encoding": {
  "x": {"datum": 214.1, "type": "quantitative", "scale": {"domain": [0, 221.5], "nice": false, "zero": false, "padding": 0}},
  "y": {"field": "v", "type": "quantitative", "scale": {"domain": [-1.05, 102.1], "nice": false, "zero": false}, "axis": null},
  "text": {"field": "lab"}}},
{"data": {"name": "olab_o"}, "mark": {"type": "text", "align": "left", "baseline": "middle", "color": "#000000", "fontSize": 9.5}, "encoding": {
  "x": {"datum": 214.1, "type": "quantitative", "scale": {"domain": [0, 221.5], "nice": false, "zero": false, "padding": 0}},
  "y": {"field": "v", "type": "quantitative", "scale": {"domain": [-0.1539, 0.128], "nice": false, "zero": false}, "axis": null},
  "text": {"field": "lab"}}},
{"data": {"values": [{"lab": "0.00"}]}, "mark": {"type": "text", "align": "left", "baseline": "middle", "color": "#000000", "fontSize": 9.5}, "encoding": {
  "x": {"datum": 215.2, "type": "quantitative", "scale": {"domain": [0, 221.5], "nice": false, "zero": false, "padding": 0}},
  "y": {"datum": 0.0, "type": "quantitative", "scale": {"domain": [-0.1539, 0.128], "nice": false, "zero": false}, "axis": null},
  "text": {"field": "lab"}}},
{"data": {"values": [{"t": "OsMA(12,26,9) -0.0538\u00a0\u00a0Stoch(5,3,3) 11.4583 24.6051\u00a0\u00a0RSI(14) 49.8289"}]}, "mark": {"type": "text", "align": "left", "baseline": "middle", "color": "#000000", "fontSize": 9.5}, "encoding": {
  "x": {"datum": 1, "type": "quantitative", "scale": {"domain": [0, 221.5], "nice": false, "zero": false, "padding": 0}},
  "y": {"datum": 91.6, "type": "quantitative", "scale": {"domain": [-1.05, 102.1], "nice": false, "zero": false}, "axis": null},
  "text": {"field": "t"}}},
{"data": {"values": [{"k": 1}]}, "mark": {"type": "rect", "color": "#6e6e6e", "opacity": 0.72}, "encoding": {
  "x": {"datum": 0, "type": "quantitative", "scale": {"domain": [0, 221.5], "nice": false, "zero": false, "padding": 0}},
  "x2": {"datum": 45},
  "y": {"datum": -0.079, "type": "quantitative", "scale": {"domain": [-0.1539, 0.128], "nice": false, "zero": false}, "axis": null},
  "y2": {"datum": -0.2035}}},
{"data": {"values": [{"t": "instaforex"}]}, "mark": {"type": "text", "align": "left", "baseline": "alphabetic", "color": "#ffffff", "fontSize": 28, "opacity": 0.9}, "encoding": {
  "x": {"datum": 11.8, "type": "quantitative", "scale": {"domain": [0, 221.5], "nice": false, "zero": false, "padding": 0}},
  "y": {"datum": -0.151, "type": "quantitative", "scale": {"domain": [-0.1539, 0.128], "nice": false, "zero": false}, "axis": null},
  "text": {"field": "t"}}},
{"data": {"values": [{"t": "Instant Forex Trading"}]}, "mark": {"type": "text", "align": "left", "baseline": "middle", "color": "#ffffff", "fontSize": 10, "opacity": 0.9}, "encoding": {
  "x": {"datum": 12, "type": "quantitative", "scale": {"domain": [0, 221.5], "nice": false, "zero": false, "padding": 0}},
  "y": {"datum": -0.186, "type": "quantitative", "scale": {"domain": [-0.1539, 0.128], "nice": false, "zero": false}, "axis": null},
  "text": {"field": "t"}}},
{"data": {"values": [{"t": "\u2699"}]}, "mark": {"type": "text", "align": "center", "baseline": "middle", "color": "#ffffff", "fontSize": 30, "font": "DejaVu Sans", "opacity": 0.85}, "encoding": {
  "x": {"datum": 6, "type": "quantitative", "scale": {"domain": [0, 221.5], "nice": false, "zero": false, "padding": 0}},
  "y": {"datum": -0.141, "type": "quantitative", "scale": {"domain": [-0.1539, 0.128], "nice": false, "zero": false}, "axis": null},
  "text": {"field": "t"}}}
],
"resolve": {"scale": {"y": "independent"}}
}
]
}
